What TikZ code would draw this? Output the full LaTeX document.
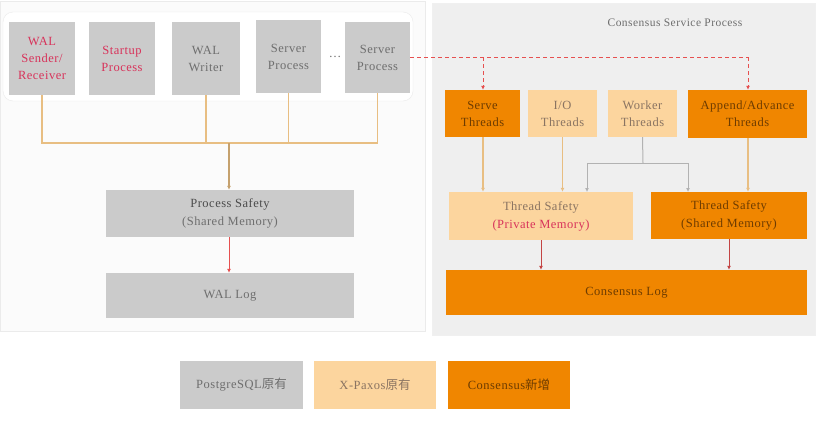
\documentclass[tikz,border=0pt]{standalone}
\usepackage{fontspec}
\setmainfont{Liberation Serif}[LetterSpace=4]
\newfontfamily\cjk{Noto Sans CJK SC}
\usetikzlibrary{arrows.meta}
\definecolor{pgray}{HTML}{CBCBCB}
\definecolor{lorange}{HTML}{FCD59E}
\definecolor{dorange}{HTML}{F08600}
\definecolor{redtxt}{HTML}{D8325A}
\definecolor{graytxt}{HTML}{6E6E6E}
\definecolor{browntxt}{HTML}{6E3C00}
\definecolor{ltxt}{HTML}{8A7462}
\definecolor{tan}{HTML}{E8BE82}
\definecolor{redln}{HTML}{E65050}
\definecolor{panel}{HTML}{EFEFEF}
\begin{document}
\begin{tikzpicture}[x=1pt,y=-1pt,
  lbl/.style={inner sep=0pt, align=center, font=\fontsize{12.5}{17}\selectfont},
  gbox/.style={lbl, rectangle, fill=pgray, text=graytxt},
  lbox/.style={lbl, rectangle, fill=lorange, text=ltxt},
  dbox/.style={lbl, rectangle, fill=dorange, text=browntxt},
  tanln/.style={draw=tan, line width=1.2pt},
  arr/.style={-{Latex[length=4pt,width=4pt]}},
  redarr/.style={draw=redln, line width=1pt, -{Latex[length=4pt,width=4pt]}},
  dashln/.style={draw=redln, line width=1pt, dash pattern=on 4pt off 3pt}
]
\useasboundingbox (0,0) rectangle (830,423);
\fill[white] (0,0) rectangle (830,423);
% panels
\draw[draw=black!8, fill=black!1.5] (0,1) rectangle (425,331);
\draw[draw=black!6, fill=panel] (432,3) rectangle (815,335);
\draw[draw=black!8, fill=white, rounded corners=10pt] (3,12) rectangle (413,101);
\node[text=graytxt, font=\fontsize{11.5}{13}\selectfont] (title) at (675,23) {Consensus Service Process};
% top process boxes
\node[gbox, minimum width=66pt, minimum height=73pt, text=redtxt] (wal) at (42,58.5) {WAL\\Sender/\\Receiver};
\node[gbox, minimum width=66pt, minimum height=73pt, text=redtxt] (startup) at (122,58.5) {Startup\\Process};
\node[gbox, minimum width=68pt, minimum height=73pt] (writer) at (206,58.5) {WAL\\Writer};
\node[gbox, minimum width=65pt, minimum height=73pt] (sp1) at (288.5,56.5) {Server\\Process};
\node[text=graytxt, lbl] (dots) at (335,57) {\dots};
\node[gbox, minimum width=65pt, minimum height=71pt] (sp2) at (377.5,57.5) {Server\\Process};
% process safety & WAL log
\node[gbox, minimum width=248pt, minimum height=47pt, font=\fontsize{12.5}{18}\selectfont] (ps) at (230,213.5) {\textcolor{black!70}{Process Safety}\\(Shared Memory)};
\node[gbox, minimum width=248pt, minimum height=45pt] (wallog) at (230,295.5) {WAL Log};
% connectors left
\coordinate (hj) at (229,143);
\draw[tanln] (wal.south) |- (sp2.south |- hj) -- (sp2.south);
\draw[tanln] (writer.south) -- (writer.south |- hj);
\draw[tanln] (sp1.south) -- (sp1.south |- hj);
\draw[tanln, arr, draw=tan!85!black] (hj) -- (hj |- ps.north);
\draw[redarr] (ps.south -| hj) -- (wallog.north -| hj);
% right threads
\node[dbox, minimum width=75pt, minimum height=47pt] (serve) at (482.5,113.5) {Serve\\Threads};
\node[lbox, minimum width=69pt, minimum height=47pt] (io) at (562.5,113.5) {I/O\\Threads};
\node[lbox, minimum width=69pt, minimum height=47pt] (worker) at (642.5,113.5) {Worker\\Threads};
\node[dbox, minimum width=119pt, minimum height=48pt] (append) at (747.5,114) {Append/Advance\\Threads};
\node[lbox, minimum width=184pt, minimum height=48pt, font=\fontsize{12.5}{18}\selectfont] (tsp) at (541,216) {Thread Safety\\\textcolor{redtxt}{(Private Memory)}};
\node[dbox, minimum width=156pt, minimum height=47pt, font=\fontsize{12.5}{18}\selectfont] (tss) at (729,215.5) {Thread Safety\\(Shared Memory)};
\node[dbox, minimum width=361pt, minimum height=45pt] (clog) at (626.5,292.5) {Consensus Log};
% dashed
\coordinate (dj) at (748,57);
\coordinate (sj) at (483,57);
\draw[dashln] (sp2.east |- dj) -- (dj);
\draw[dashln, -{Latex[length=4pt,width=4pt]}] (sj) -- (sj |- serve.north);
\draw[dashln, -{Latex[length=4pt,width=4pt]}] (dj) -- (dj |- append.north);
% thread connectors
\draw[tanln, arr] (serve.south -| sj) -- (sj |- tsp.north);
\draw[tanln, arr] (io.south) -- (io.south |- tsp.north);
\coordinate (wj) at (643,163);
\draw[draw=black!30, line width=1pt] (worker.south) -- (wj);
\draw[draw=black!30, line width=1pt, arr] (wj) -| (587,192);
\draw[draw=black!30, line width=1pt, arr] (wj) -| (688,192);
\draw[tanln, arr] (append.south -| dj) -- (dj |- tss.north);
\draw[redarr, draw=redln!85!black] (tsp.south) -- (tsp.south |- clog.north);
\draw[redarr, draw=redln!85!black] (tss.south) -- (tss.south |- clog.north);
% legend
\node[gbox, minimum width=123pt, minimum height=48pt] (lg1) at (241.5,385) {PostgreSQL{\cjk 原有}};
\node[lbox, minimum width=122pt, minimum height=48pt] (lg2) at (375,385) {X-Paxos{\cjk 原有}};
\node[dbox, minimum width=122pt, minimum height=48pt] (lg3) at (509,385) {Consensus{\cjk 新增}};
\end{tikzpicture}
\end{document}
